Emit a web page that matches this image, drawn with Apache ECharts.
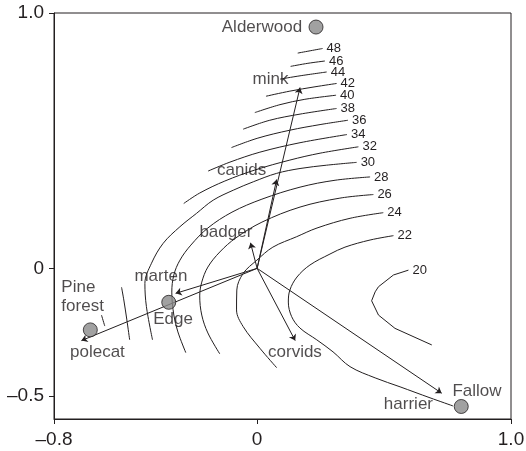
<!DOCTYPE html>
<html>
<head>
<meta charset="utf-8">
<script src="https://cdn.jsdelivr.net/npm/echarts@6/dist/echarts.min.js"></script>
<style>html,body{margin:0;padding:0;background:#fff}#c{width:526px;height:451px}</style>
</head>
<body>
<div id="c"></div>
<script>
// ---- axis ticks ----
const xTicks = [-0.8, 0, 1.0];
const xTickLabels = ['\u20130.8', '0', '1.0'];
const yTicks = [-0.5, 0, 1.0];
const yTickLabels = ['\u20130.5', '0', '1.0'];

// ---- sites (grey points) ----
const siteNames = ['Alderwood', 'Edge', 'Pine forest', 'Fallow'];
const siteX = [0.232, -0.348, -0.657, 0.804];
const siteY = [0.945, -0.133, -0.241, -0.541];

// ---- species arrows (from origin) ----
const speciesNames = ['mink', 'canids', 'badger', 'marten', 'polecat', 'corvids', 'harrier'];
const speciesX = [0.169, 0.077, -0.026, -0.321, -0.692, 0.150, 0.727];
const speciesY = [0.708, 0.348, 0.100, -0.098, -0.283, -0.283, -0.489];

// ---- text labels ----
const labelTexts = ['Alderwood', 'mink', 'canids', 'badger', 'marten', 'Edge', 'polecat', 'corvids', 'Fallow', 'harrier'];
const labelX = [0.019, 0.053, -0.061, -0.123, -0.379, -0.331, -0.629, 0.149, 0.866, 0.596];
const labelY = [0.944, 0.741, 0.385, 0.142, -0.033, -0.200, -0.329, -0.329, -0.480, -0.534];
const leftLabelTexts = ['Pine\nforest'];
const leftLabelX = [-0.771];
const leftLabelY = [-0.111];

// ---- contour lines (label end last) ----
const contourLevels = ['48', '46', '44', '42', '40', '38', '36', '34', '32', '30', '28', '26', '24', '22', '20'];
const c48 = [[0.160, 0.843], [0.258, 0.861]];
const c46 = [[0.132, 0.791], [0.200, 0.803], [0.267, 0.812]];
const c44 = [[0.090, 0.741], [0.169, 0.754], [0.274, 0.769]];
const c42 = [[0.035, 0.674], [0.129, 0.694], [0.228, 0.711], [0.313, 0.724]];
const c40 = [[-0.009, 0.610], [0.090, 0.641], [0.188, 0.662], [0.311, 0.678]];
const c38 = [[-0.055, 0.545], [0.050, 0.580], [0.169, 0.604], [0.313, 0.626]];
const c36 = [[-0.101, 0.473], [0.003, 0.510], [0.129, 0.541], [0.248, 0.563], [0.358, 0.580]];
const c34 = [[-0.193, 0.381], [-0.107, 0.416], [0.011, 0.455], [0.169, 0.492], [0.354, 0.524]];
const c32 = [[-0.289, 0.254], [-0.226, 0.295], [-0.127, 0.342], [-0.009, 0.385], [0.129, 0.424], [0.248, 0.451], [0.399, 0.476]];
const c30 = [[-0.412, -0.280], [-0.436, -0.150], [-0.442, -0.059], [-0.416, 0.020], [-0.370, 0.098], [-0.304, 0.163], [-0.239, 0.215], [-0.173, 0.267], [-0.094, 0.306], [-0.015, 0.339], [0.077, 0.372], [0.169, 0.391], [0.274, 0.404], [0.392, 0.415]];
const c28 = [[-0.281, -0.330], [-0.312, -0.249], [-0.328, -0.183], [-0.336, -0.093], [-0.328, -0.026], [-0.304, 0.032], [-0.261, 0.091], [-0.194, 0.158], [-0.099, 0.220], [0.019, 0.271], [0.169, 0.318], [0.307, 0.345], [0.445, 0.358]];
const c26 = [[-0.147, -0.335], [-0.194, -0.253], [-0.218, -0.183], [-0.226, -0.108], [-0.218, -0.054], [-0.194, 0.005], [-0.147, 0.064], [-0.084, 0.119], [0.019, 0.181], [0.169, 0.240], [0.326, 0.275], [0.458, 0.289]];
const c24 = [[0.077, -0.389], [0.011, -0.313], [-0.055, -0.228], [-0.081, -0.163], [-0.080, -0.085], [-0.055, -0.020], [-0.001, 0.032], [0.062, 0.083], [0.156, 0.124], [0.236, 0.158], [0.366, 0.196], [0.497, 0.218]];
const c22 = [[0.772, -0.539], [0.681, -0.507], [0.563, -0.464], [0.465, -0.429], [0.366, -0.385], [0.299, -0.327], [0.235, -0.280], [0.169, -0.234], [0.136, -0.189], [0.123, -0.132], [0.129, -0.085], [0.157, -0.034], [0.208, 0.013], [0.287, 0.056], [0.346, 0.083], [0.445, 0.111], [0.537, 0.128]];
const c20 = [[0.688, -0.300], [0.543, -0.235], [0.478, -0.183], [0.451, -0.127], [0.465, -0.092], [0.478, -0.072], [0.537, -0.026], [0.596, -0.007]];
// unlabelled fragments of contours 32 and 34 on the left
const c32b = [[-0.534, -0.074], [-0.525, -0.124], [-0.513, -0.202], [-0.502, -0.280]];
const c34b = [[-0.613, -0.183], [-0.600, -0.226]];

const labelledContours = [c48, c46, c44, c42, c40, c38, c36, c34, c32, c30, c28, c26, c24, c22, c20];
const fragments = [c32b, c34b];

const INK = '#231f20';
const FONT = 'Liberation Sans, Arial, Helvetica, sans-serif';

const series = [];
labelledContours.forEach((pts, i) => {
  series.push({
    type: 'line', data: pts, symbol: 'none', smooth: i === 14 ? false : 0.35,
    lineStyle: { color: INK, width: 1 }, silent: true, z: 2,
    endLabel: { show: true, formatter: contourLevels[i], color: INK, fontSize: 13, fontFamily: FONT, distance: 4 }
  });
});
fragments.forEach(pts => {
  series.push({ type: 'line', data: pts, symbol: 'none', smooth: 0.35, lineStyle: { color: INK, width: 1 }, silent: true, z: 2 });
});
series.push({
  type: 'lines', coordinateSystem: 'cartesian2d', z: 3,
  symbol: ['none', 'arrow'], symbolSize: 6,
  lineStyle: { color: INK, width: 1, opacity: 1 },
  data: speciesNames.map((n, i) => ({ name: n, coords: [[0, 0], [speciesX[i], speciesY[i]]] }))
});
series.push({
  type: 'scatter', z: 5, symbol: 'circle', symbolSize: 14,
  itemStyle: { color: '#8a8a8a', borderColor: INK, borderWidth: 1 },
  data: siteX.map((x, i) => ({ name: siteNames[i], value: [x, siteY[i]] }))
});
series.push({
  type: 'scatter', z: 6, symbolSize: 0, silent: true,
  label: { show: true, position: 'inside', formatter: p => p.name, color: INK, fontSize: 17, fontFamily: FONT },
  data: labelTexts.map((t, i) => ({ name: t, value: [labelX[i], labelY[i]] }))
});
series.push({
  type: 'scatter', z: 6, symbolSize: 0, silent: true,
  label: { show: true, position: 'inside', align: 'left', lineHeight: 19, formatter: p => p.name, color: INK, fontSize: 17, fontFamily: FONT },
  data: leftLabelTexts.map((t, i) => ({ name: t, value: [leftLabelX[i], leftLabelY[i]] }))
});

const chart = echarts.init(document.getElementById('c'), null, { renderer: 'canvas' });
chart.setOption({
  animation: false,
  backgroundColor: '#fff',
  grid: { left: 54, right: 15, top: 13, bottom: 32, show: true, borderColor: INK, borderWidth: 1, containLabel: false, outerBoundsMode: 'none' },
  xAxis: {
    type: 'value', min: -0.8, max: 1.0, splitLine: { show: false },
    axisLine: { onZero: false, lineStyle: { color: INK, width: 1 } },
    axisTick: { customValues: xTicks, length: 5, lineStyle: { color: INK } },
    axisLabel: { customValues: xTicks, formatter: v => xTickLabels[xTicks.indexOf(v)] ?? '', color: INK, fontSize: 19, fontFamily: FONT, margin: 11 }
  },
  yAxis: {
    type: 'value', min: -0.59, max: 1.0, splitLine: { show: false },
    axisLine: { onZero: false, lineStyle: { color: INK, width: 1 } },
    axisTick: { customValues: yTicks, length: 5, lineStyle: { color: INK } },
    axisLabel: { customValues: yTicks, formatter: v => yTickLabels[yTicks.indexOf(v)] ?? '', color: INK, fontSize: 19, fontFamily: FONT, margin: 10 }
  },
  series: series
});
</script>
</body>
</html>
